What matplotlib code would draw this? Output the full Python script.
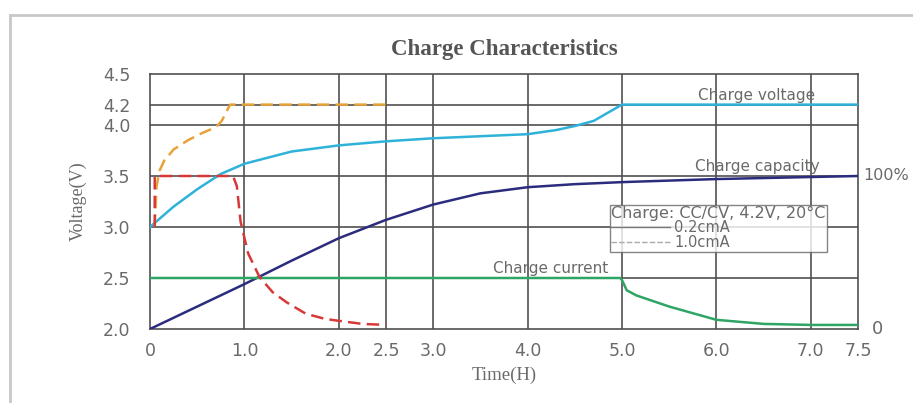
import matplotlib.pyplot as plt
from matplotlib.lines import Line2D

# ------------------------------------------------------------------------------
# values

x_ticks = [0, 1.0, 2.0, 2.5, 3.0, 4.0, 5.0, 6.0, 7.0, 7.5]
x_labels = ["0", "1.0", "2.0", "2.5", "3.0", "4.0", "5.0", "6.0", "7.0", "7.5"]
y_ticks = [2.0, 2.5, 3.0, 3.5, 4.0, 4.2, 4.5]
y_labels = ["2.0", "2.5", "3.0", "3.5", "4.0", "4.2", "4.5"]

# 0.2cmA charge voltage
volt_t = [0, 0.25, 0.5, 0.75, 1.0, 1.5, 2.0, 2.5, 3.0, 3.5, 4.0, 4.3, 4.5, 4.7, 4.85, 5.0, 7.5]
volt_v = [3.0, 3.2, 3.37, 3.52, 3.62, 3.74, 3.8, 3.84, 3.87, 3.89, 3.91, 3.95, 3.99, 4.04, 4.12, 4.2, 4.2]

# charge capacity
cap_t = [0, 0.5, 1.0, 1.5, 2.0, 2.5, 3.0, 3.5, 4.0, 4.5, 5.0, 6.0, 7.0, 7.5]
cap_v = [2.0, 2.22, 2.44, 2.67, 2.89, 3.07, 3.22, 3.33, 3.39, 3.42, 3.44, 3.47, 3.49, 3.5]

# 0.2cmA charge current
cur_t = [0, 4.98, 5.0, 5.05, 5.15, 5.5, 6.0, 6.5, 7.0, 7.5]
cur_v = [2.5, 2.5, 2.48, 2.38, 2.33, 2.22, 2.09, 2.05, 2.04, 2.04]

# 1.0cmA charge voltage
fvolt_t = [0.05, 0.07, 0.1, 0.15, 0.25, 0.4, 0.55, 0.7, 0.76, 0.82, 0.85, 2.5]
fvolt_v = [3.0, 3.4, 3.55, 3.65, 3.76, 3.85, 3.92, 3.98, 4.04, 4.15, 4.2, 4.2]

# 1.0cmA charge current
fcur_t = [0.05, 0.05, 0.88, 0.92, 0.96, 1.04, 1.16, 1.3, 1.45, 1.65, 1.85, 2.0, 2.25, 2.5]
fcur_v = [3.0, 3.5, 3.5, 3.4, 3.05, 2.74, 2.51, 2.36, 2.26, 2.15, 2.1, 2.08, 2.05, 2.04]

# ------------------------------------------------------------------------------

fig = plt.figure(figsize=(9.13, 4.03), dpi=100)
ax = fig.add_axes([150/913, 1-329/403, 708/913, 255/403])

grid_c = "#505050"
text_c = "#6a6a6a"

# faint outer frame of the scanned picture
fig.add_artist(Line2D([10/913, 1], [1-15/403]*2, color="#c8c8c8", lw=2, transform=fig.transFigure))
fig.add_artist(Line2D([10/913]*2, [0, 1-15/403], color="#c8c8c8", lw=2, transform=fig.transFigure))

for xv in x_ticks[1:-1]:
  ax.axvline(xv, color=grid_c, lw=1.2, zorder=1)
for yv in y_ticks[1:-1]:
  ax.axhline(yv, color=grid_c, lw=1.2, zorder=1)

ax.plot(volt_t, volt_v, color="#2fb2d9", lw=1.8, zorder=3)
ax.plot(cap_t, cap_v, color="#2c2c7e", lw=1.8, zorder=3)
ax.plot(cur_t, cur_v, color="#2ea565", lw=1.8, zorder=3)
ax.plot(fvolt_t, fvolt_v, color="#e8a23a", lw=1.8, ls=(0, (5, 2.5)), zorder=4)
ax.plot(fcur_t, fcur_v, color="#d83838", lw=1.8, ls=(0, (5, 2.5)), zorder=4)

ax.set_xlim(0, 7.5)
ax.set_ylim(2.0, 4.5)
ax.set_xticks(x_ticks)
ax.set_xticklabels(x_labels)
ax.set_yticks(y_ticks)
ax.set_yticklabels(y_labels)
ax.tick_params(length=0, labelsize=12.5, labelcolor=text_c)
ax.tick_params(axis="y", pad=14)
ax.tick_params(axis="x", pad=9)
for s in ax.spines.values():
  s.set_color(grid_c)
  s.set_linewidth(1.2)

ax.set_title("Charge Characteristics", family="Liberation Serif", fontsize=16.5,
             fontweight="bold", color="#555555", pad=14)
ax.set_xlabel("Time(H)", family="Liberation Serif", fontsize=13.5, color=text_c, labelpad=5)
ax.set_ylabel("Voltage(V)", family="Liberation Serif", fontsize=13, color=text_c, labelpad=12)

# curve labels
ax.text(6.43, 4.215, "Charge voltage", fontsize=11, color=text_c, ha="center", va="bottom")
ax.text(6.43, 3.515, "Charge capacity", fontsize=11, color=text_c, ha="center", va="bottom")
ax.text(4.24, 2.515, "Charge current", fontsize=11, color=text_c, ha="center", va="bottom")

# right side capacity scale
ax.text(7.56, 3.5, "100%", fontsize=11.5, color=text_c, ha="left", va="center")
ax.text(7.65, 2.0, "0", fontsize=13, color=text_c, ha="left", va="center")

handles = [Line2D([], [], color="#777777", lw=1),
           Line2D([], [], color="#aaaaaa", lw=1, ls=(0, (4, 1.5)))]
leg = ax.legend(handles, ["0.2cmA", "1.0cmA"], title="Charge: CC/CV, 4.2V, 20°C",
                loc="upper left", bbox_to_anchor=((610-150)/708, (329-205)/255),
                fontsize=10.5, title_fontsize=11.5, frameon=True, fancybox=False,
                borderpad=0.1, labelspacing=0.0, handlelength=4.0, handletextpad=0.3,
                borderaxespad=0)
leg.get_frame().set_edgecolor("#666666")
leg.get_frame().set_linewidth(1)
leg.get_title().set_color(text_c)
leg._legend_box.align = "left"
leg._legend_box.sep = -1
for t in leg.get_texts():
  t.set_color(text_c)
leg.set_zorder(5)

plt.savefig("out.png", dpi=100)
